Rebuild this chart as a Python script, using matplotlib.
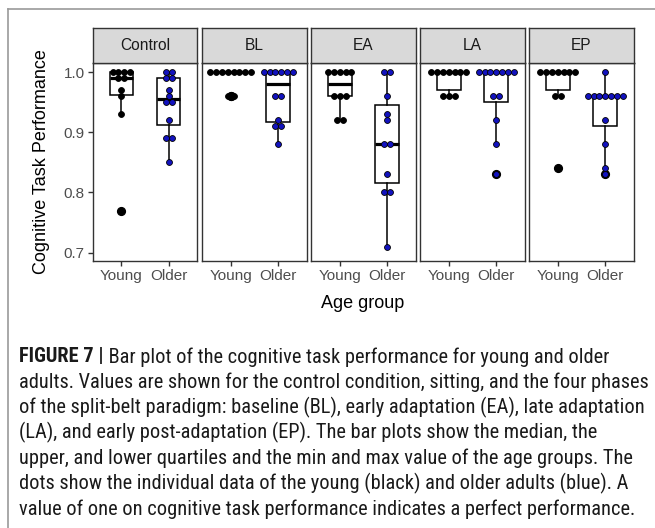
import matplotlib
matplotlib.use('Agg')
import numpy as np
import matplotlib.pyplot as plt
from matplotlib import font_manager
from matplotlib.lines import Line2D

plt.rcParams['font.family'] = ['Liberation Sans', 'DejaVu Sans']

# data
phases = ['Control', 'BL', 'EA', 'LA', 'EP']
groups = ['Young', 'Older']

control_young = [1.0, 1.0, 1.0, 1.0, 0.99, 0.99, 0.97, 0.96, 0.93, 0.77]
control_older = [1.0, 1.0, 0.99, 0.99, 0.97, 0.96, 0.95, 0.95, 0.92, 0.89, 0.89, 0.85]
bl_young = [1.0, 1.0, 1.0, 1.0, 1.0, 1.0, 1.0, 1.0, 0.96, 0.96]
bl_older = [1.0, 1.0, 1.0, 1.0, 1.0, 1.0, 0.96, 0.96, 0.92, 0.91, 0.91, 0.88]
ea_young = [1.0, 1.0, 1.0, 1.0, 1.0, 0.96, 0.96, 0.96, 0.92, 0.92]
ea_older = [1.0, 1.0, 0.96, 0.93, 0.92, 0.88, 0.88, 0.83, 0.80, 0.80, 0.71]
la_young = [1.0, 1.0, 1.0, 1.0, 1.0, 1.0, 1.0, 0.96, 0.96, 0.96]
la_older = [1.0, 1.0, 1.0, 1.0, 1.0, 1.0, 1.0, 0.96, 0.96, 0.92, 0.88, 0.83]
ep_young = [1.0, 1.0, 1.0, 1.0, 1.0, 1.0, 1.0, 0.96, 0.96, 0.84]
ep_older = [1.0, 0.96, 0.96, 0.96, 0.96, 0.96, 0.96, 0.96, 0.92, 0.88, 0.84, 0.83]

young = [control_young, bl_young, ea_young, la_young, ep_young]
older = [control_older, bl_older, ea_older, la_older, ep_older]

yticks = [0.7, 0.8, 0.9, 1.0]

caption_bold = 'FIGURE 7 |'
caption_lines = [
    ' Bar plot of the cognitive task performance for young and older',
    'adults. Values are shown for the control condition, sitting, and the four phases',
    'of the split-belt paradigm: baseline (BL), early adaptation (EA), late adaptation',
    '(LA), and early post-adaptation (EP). The bar plots show the median, the',
    'upper, and lower quartiles and the min and max value of the age groups. The',
    'dots show the individual data of the young (black) and older adults (blue). A',
    'value of one on cognitive task performance indicates a perfect performance.',
]

W, H = 655, 528
fig = plt.figure(figsize=(W / 100, H / 100), dpi=100)


def px_rect(x0, y0, x1, y1):
    # pixel box (top-left origin) -> figure fraction rect
    return [x0 / W, 1 - y1 / H, (x1 - x0) / W, (y1 - y0) / H]


def pick_caption_font():
    # prefer a narrow / condensed sans if one is installed
    names = sorted({f.name for f in font_manager.fontManager.ttflist})
    for key in ['Liberation Sans Narrow', 'Roboto Condensed', 'Open Sans Condensed']:
        if key in names:
            return key
    for n in names:
        if 'Narrow' in n or 'Condensed' in n:
            return n
    return 'Liberation Sans'


# outer frame of the figure box
fig.add_artist(Line2D([8 / W, 1], [1 - 9 / H, 1 - 9 / H], transform=fig.transFigure,
                      color='#9a9a9a', lw=1.2))
fig.add_artist(Line2D([8 / W, 8 / W], [1 - 9 / H, 0], transform=fig.transFigure,
                      color='#9a9a9a', lw=1.2))

panel_x = [(93, 197), (202, 307), (311, 416), (420, 525), (529, 634)]
top, bottom, strip_top = 63, 261, 28
edge = '#333333'
blue = '#1212BE'
dot_px = 5.9

for i, phase in enumerate(phases):
    x0, x1 = panel_x[i]
    ax = fig.add_axes(px_rect(x0, top, x1, bottom))
    ax.set_xlim(-0.6, 1.6)
    ax.set_ylim(0.686, 1.0155)
    unit_px = (x1 - x0) / 2.2
    d = dot_px / unit_px

    ax.boxplot([young[i], older[i]], positions=[0, 1], widths=0.5,
               whis=1.5, showcaps=False, patch_artist=True,
               boxprops=dict(facecolor='white', edgecolor='black', linewidth=1.1),
               whiskerprops=dict(color='black', linewidth=1.1),
               medianprops=dict(color='black', linewidth=2.3),
               flierprops=dict(marker='o', markerfacecolor='black',
                               markeredgecolor='black', markersize=5.6),
               zorder=2)

    for pos, vals, fc in [(0, young[i], 'black'), (1, older[i], blue)]:
        uniq, counts = np.unique(vals, return_counts=True)
        xs, ys = [], []
        for v, k in zip(uniq, counts):
            for j in range(k):
                xs.append(pos + (j - (k - 1) / 2) * d)
                ys.append(v)
        ax.scatter(xs, ys, s=(dot_px * 0.72) ** 2, facecolor=fc,
                   edgecolor='black', linewidth=0.6, zorder=4)

    ax.set_xticks([0, 1])
    ax.set_xticklabels(groups, fontsize=11, color='#4D4D4D')
    ax.set_yticks(yticks)
    if i == 0:
        ax.set_yticklabels([f'{t:.1f}' for t in yticks], fontsize=11, color='#4D4D4D')
    else:
        ax.tick_params(axis='y', left=False, labelleft=False)
    ax.tick_params(axis='both', length=3.5, width=1, color=edge, pad=2.5)
    for s in ax.spines.values():
        s.set_color(edge)
        s.set_linewidth(1.0)

    sax = fig.add_axes(px_rect(x0, strip_top, x1, top))
    sax.set_facecolor('#D9D9D9')
    sax.set_xticks([])
    sax.set_yticks([])
    for s in sax.spines.values():
        s.set_color(edge)
        s.set_linewidth(1.0)
    sax.text(0.5, 0.5, phase, ha='center', va='center', fontsize=11.2,
             color='#1A1A1A', transform=sax.transAxes)

fig.text(42 / W, 1 - 162 / H, 'Cognitive Task Performance', rotation=90,
         ha='center', va='center', fontsize=13)
fig.text(363 / W, 1 - 303 / H, 'Age group', ha='center', va='center', fontsize=13)

# caption
cap_font = pick_caption_font()
renderer = fig.canvas.get_renderer()
probe = fig.text(0, 0, caption_lines[1], fontsize=12, family=cap_font)
wpx = probe.get_window_extent(renderer).width
probe.remove()
cap_size = 12 * 628 / wpx

left = 19
line_y = [357 + 25.3 * k for k in range(len(caption_lines))]
b = fig.text(left / W, 1 - line_y[0] / H, caption_bold, fontsize=cap_size,
             family=cap_font, weight='bold', va='center', color='#1a1a1a')
bx = b.get_window_extent(renderer).x1
fig.text(bx / W, 1 - line_y[0] / H, caption_lines[0], fontsize=cap_size,
         family=cap_font, va='center', color='#1a1a1a')
for k in range(1, len(caption_lines)):
    fig.text(left / W, 1 - line_y[k] / H, caption_lines[k], fontsize=cap_size,
             family=cap_font, va='center', color='#1a1a1a')

fig.savefig('out.png', dpi=100)
